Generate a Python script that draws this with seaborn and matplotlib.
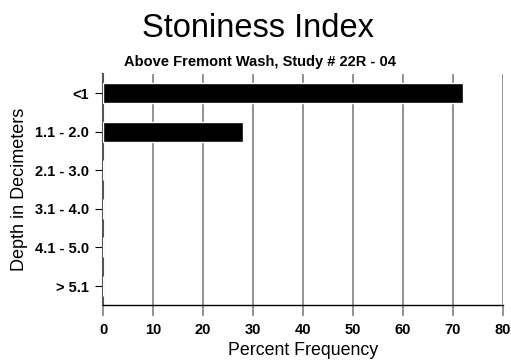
import matplotlib
matplotlib.use("Agg")
import matplotlib.pyplot as plt
import seaborn as sns
import pandas as pd

depths = ["<1", "1.1 - 2.0", "2.1 - 3.0", "3.1 - 4.0", "4.1 - 5.0", "> 5.1"]
percent = [72, 28, 0, 0, 0, 0]
x_ticks = [0, 10, 20, 30, 40, 50, 60, 70, 80]

df = pd.DataFrame({"depth": depths, "percent": percent})

sns.set_theme(style="white")
plt.rcParams["font.family"] = ["Liberation Sans", "DejaVu Sans"]
plt.rcParams["text.color"] = "black"

fig = plt.figure(figsize=(5.11, 3.62), dpi=100)
ax = fig.add_axes([0.2016, 0.1566, 0.7827, 0.6398])

sns.barplot(data=df, x="percent", y="depth", order=depths, color="black",
            width=0.52, saturation=1, ax=ax, zorder=3)

ax.set_xlim(0, 80)
ax.set_ylim(5.5, -0.5)
ax.set_xticks(x_ticks)
ax.set_xticklabels([str(t) for t in x_ticks], fontweight="bold", fontsize=10.5)
ax.set_yticks(range(len(depths)))
ax.set_yticklabels(depths, fontweight="bold", fontsize=10.5)
ax.xaxis.grid(True, color="#808080", linewidth=1.2, zorder=0)
ax.yaxis.grid(False)

for side in ("top", "right"):
    ax.spines[side].set_visible(False)
ax.spines["bottom"].set_color("black")
ax.spines["bottom"].set_linewidth(1.0)
ax.spines["left"].set_color("#555555")
ax.spines["left"].set_linewidth(1.5)

ax.tick_params(axis="x", direction="out", length=8, width=1.2, color="#808080",
               bottom=True, pad=5, labelcolor="black")
ax.tick_params(axis="y", direction="out", length=6, width=0.8, color="black",
               left=True, pad=4, labelcolor="black")

ax.set_xlabel("Percent Frequency", fontsize=12.8, labelpad=3, color="black")
ax.set_ylabel("Depth in Decimeters", fontsize=13, labelpad=5, color="black")

fig.text(0.505, 0.922, "Stoniness Index", ha="center", va="center",
         fontsize=23.5, color="black")
fig.text(0.508, 0.828, "Above Fremont Wash, Study # 22R - 04", ha="center",
         va="center", fontsize=10.5, fontweight="bold", color="black")

fig.savefig("out.png", dpi=100)
